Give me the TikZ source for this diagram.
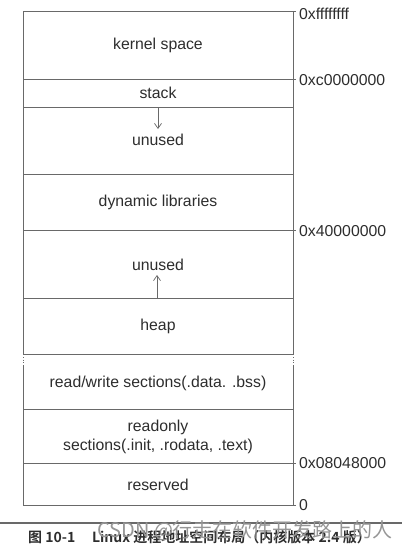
\documentclass[tikz,border=0pt]{standalone}
\usepackage{fontspec}
\setmainfont{Liberation Sans}
\newfontfamily\cjk{Noto Sans CJK SC}
\newfontfamily\cjkbold{Noto Sans CJK SC Bold}
\usetikzlibrary{arrows.meta}
\definecolor{linec}{RGB}{105,105,105}
\definecolor{textc}{RGB}{45,45,45}
\definecolor{wmc}{RGB}{150,150,150}
\tikzset{
  boxline/.style={draw=linec, line width=0.8pt},
  seglabel/.style={text=textc, font=\fontsize{15.8}{18}\selectfont, inner sep=0pt, align=center},
  addr/.style={text=textc, font=\fontsize{15.8}{18}\selectfont, inner sep=0pt, anchor=west},
  growarrow/.style={draw=linec, line width=0.7pt, -{Straight Barb[length=5pt,width=7pt]}},
}
\begin{document}
\begin{tikzpicture}[x=1pt,y=-1pt]
\useasboundingbox (0,0) rectangle (405,555);
% upper block
\draw[boxline] (23,11) rectangle (293,354);
\foreach \yy in {79,107,174,230,298} \draw[boxline] (23,\yy) -- (293,\yy);
% address ticks
\foreach \yy in {11,79,230} \draw[boxline] (293,\yy) -- (296,\yy);
% gap sides
\draw[boxline, dotted] (23,354) -- (23,365);
\draw[boxline, dotted] (293,354) -- (293,365);
% lower block
\draw[boxline] (23,365) -- (23,505) -- (296,505);
\draw[boxline] (293,365) -- (293,505);
\draw[boxline] (23,409) -- (293,409);
\draw[boxline] (23,463) -- (296,463);
% segment labels
\node[seglabel] (kernel) at (158,45) {kernel space};
\node[seglabel] (stack) at (158,93) {stack};
\node[seglabel] (unused1) at (158,140) {unused};
\node[seglabel] (dynlib) at (158,202) {dynamic libraries};
\node[seglabel] (unused2) at (158,265) {unused};
\node[seglabel] (heap) at (158,326) {heap};
\node[seglabel] (rw) at (158,383) {read/write sections(.data. .bss)};
\node[seglabel, align=center] (ro) at (158,437) {readonly\\[1pt]sections(.init, .rodata, .text)};
\node[seglabel] (reserved) at (158,485) {reserved};
% growth arrows
\coordinate (sa) at (158,107);
\coordinate (sb) at (158,129);
\draw[growarrow] (sa) -- (sb);
\coordinate (ha) at (157,298);
\coordinate (hb) at (157,275);
\draw[growarrow] (ha) -- (hb);
% addresses
\node[addr] (a1) at (299,14) {0xffffffff};
\node[addr] (a2) at (299,80) {0xc0000000};
\node[addr] (a3) at (299,231) {0x40000000};
\node[addr] (a4) at (299,463) {0x08048000};
\node[addr] (a5) at (299,505) {0};
% caption
\draw[draw=linec, line width=1.6pt] (0,523) -- (402,523);
\node[anchor=west, inner sep=0pt, text=textc, font=\cjkbold\fontsize{14}{16}\selectfont] (cap) at (28,537) {图 10-1\hspace{1.2em}Linux 进程地址空间布局（内核版本 2.4 版）};
\node[anchor=west, inner sep=0pt, text=wmc, font=\cjk\fontsize{20}{22}\selectfont] (wm) at (97,531) {CSDN @行走在软件开发路上的人};
\end{tikzpicture}
\end{document}
